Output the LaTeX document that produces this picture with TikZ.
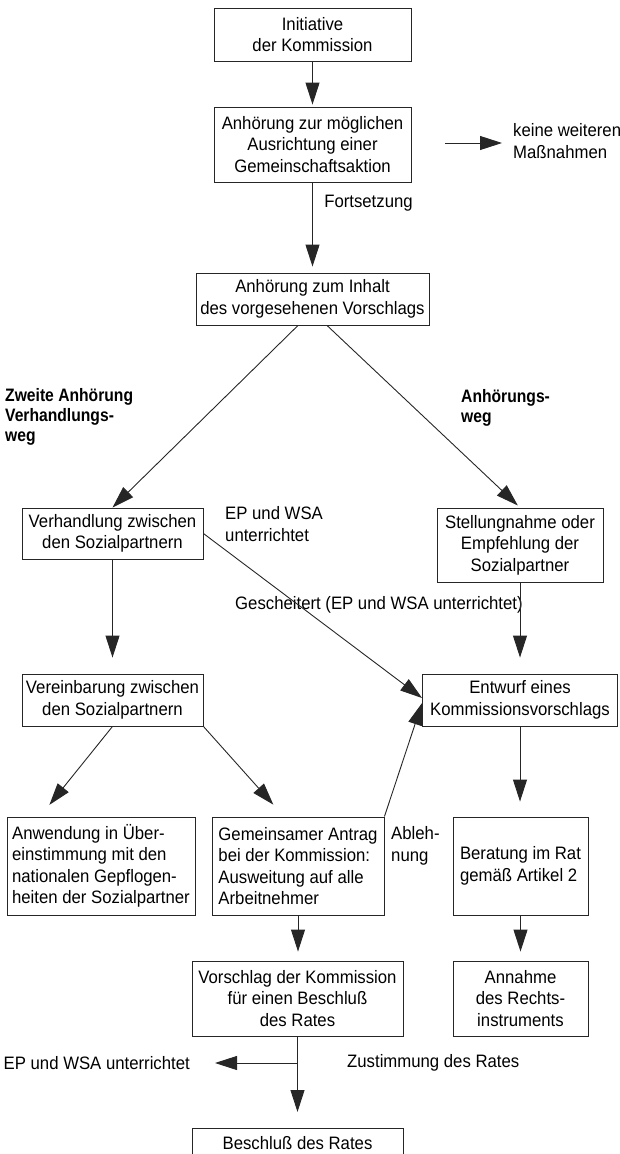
\documentclass[tikz,border=0pt]{standalone}
\usepackage{fontspec}
\setmainfont{Liberation Sans}[FakeStretch=0.93, BoldFeatures={FakeStretch=0.87}]
\usetikzlibrary{positioning, arrows.meta}
\tikzset{
  box/.style={rectangle, draw=black!85, line width=0.9pt, align=center, inner sep=2pt},
  note/.style={align=left, inner sep=0pt},
  way/.style={align=left, inner sep=0pt, font=\fontsize{18}{20}\selectfont\bfseries},
  arrow/.style={line width=0.9pt, draw=black!85, -{Triangle[length=22pt, width=14pt]}}
}

\begin{document}
\begin{tikzpicture}[x=1pt, y=-1pt, every node/.style={font=\fontsize{18}{21.5}\selectfont}]
        \useasboundingbox (0,0) rectangle (619,1154);

        % Kästen
        \node (init) [box, minimum width=197pt, minimum height=53pt] at (312.5,34.5) {Initiative\\der Kommission};
        \node (anh1) [box, minimum width=197pt, minimum height=75pt] at (312.5,144.5) {Anhörung zur möglichen\\Ausrichtung einer\\Gemeinschaftsaktion};
        \node (anh2) [box, minimum width=233pt, minimum height=52pt] at (312.5,299) {Anhörung zum Inhalt\\des vorgesehenen Vorschlags};
        \node (verh) [box, minimum width=181pt, minimum height=51pt] at (112.5,533.5) {Verhandlung zwischen\\den Sozialpartnern};
        \node (stell) [box, minimum width=166pt, minimum height=74pt] at (520,545) {Stellungnahme oder\\Empfehlung der\\Sozialpartner};
        \node (verein) [box, minimum width=181pt, minimum height=52pt] at (112.5,700) {Vereinbarung zwischen\\den Sozialpartnern};
        \node (entw) [box, minimum width=195pt, minimum height=52pt] at (520,700) {Entwurf eines\\Kommissionsvorschlags};
        \node (anw) [box, align=left, minimum width=188pt, minimum height=98pt] at (101,866) {Anwendung in Über-\\einstimmung mit den\\nationalen Gepflogen-\\heiten der Sozialpartner};
        \node (gem) [box, align=left, minimum width=172pt, minimum height=98pt] at (298,866) {Gemeinsamer Antrag\\bei der Kommission:\\Ausweitung auf alle\\Arbeitnehmer};
        \node (berat) [box, align=left, minimum width=135pt, minimum height=98pt] at (520.5,866) {Beratung im Rat\\gemäß Artikel 2};
        \node (vorsch) [box, minimum width=211pt, minimum height=75pt] at (297.5,998.5) {Vorschlag der Kommission\\für einen Beschluß\\des Rates};
        \node (annahme) [box, minimum width=135pt, minimum height=75pt] at (520.5,998.5) {Annahme\\des Rechts-\\instruments};
        \node (beschl) [box, anchor=north, minimum width=211pt, text height=19pt, text depth=30pt] at (297.5,1128) {Beschluß des Rates};

        % Beschriftungen
        \node (keine) [note, anchor=west] at (513,141) {keine weiteren\\Maßnahmen};
        \node (zweite) [way, anchor=west] at (5,417) {Zweite Anhörung\\Verhandlungs-\\weg};
        \node (anhweg) [way, anchor=west] at (461,407.5) {Anhörungs-\\weg};
        \node (epinfo) [note, anchor=west] at (225,524) {EP und WSA\\unterrichtet};
        \node (gesch) [note, anchor=west] at (235,605) {Gescheitert (EP und WSA unterrichtet)};
        \node (ableh) [note, anchor=west] at (391,846) {Ableh-\\nung};
        \node (epwsa) [note, anchor=east] at (190,1063) {EP und WSA unterrichtet};
        \node (zust) [note, anchor=west] at (347,1063) {Zustimmung des Rates};
        \coordinate (keinestart) at (445,143);
        \coordinate (branch) at (297.5,1063);

        % Pfeile
        \draw [arrow, shorten >=2pt] (init) -- (anh1);
        \draw [arrow, shorten >=6pt] (anh1) -- node[right, pos=0.23, xshift=8pt] (forts) {Fortsetzung} (anh2);
        \draw [arrow, shorten >=11pt] (keinestart) -- (keinestart -| keine.west);
        \draw [arrow] ([xshift=-14.5pt]anh2.south) -- (verh.north);
        \draw [arrow, shorten >=3pt] ([xshift=14.5pt]anh2.south) -- (stell.north);
        \draw [arrow, shorten >=16pt] (verh) -- (verein);
        \draw [arrow, shorten >=16pt] (stell) -- (entw);
        \draw [arrow] (verh.east) -- ([yshift=2pt]entw.west);
        \draw [arrow, shorten >=15pt] (verein.south) -- ([xshift=-61pt]anw.north);
        \draw [arrow, shorten >=16pt] (verein.south east) -- ([xshift=-14pt]gem.north);
        \draw [arrow] (gem.north east) -- ([yshift=-3pt]entw.west);
        \draw [arrow, shorten >=15pt] (entw.south) -- (entw.south |- berat.north);
        \draw [arrow, shorten >=9pt] (gem) -- (gem |- vorsch.north);
        \draw [arrow, shorten >=9pt] (berat) -- (annahme);
        \draw [arrow, shorten >=16pt] (vorsch) -- (beschl);
        \draw [arrow, shorten >=25pt] (branch) -- (epwsa.east);

    \end{tikzpicture}
\end{document}
